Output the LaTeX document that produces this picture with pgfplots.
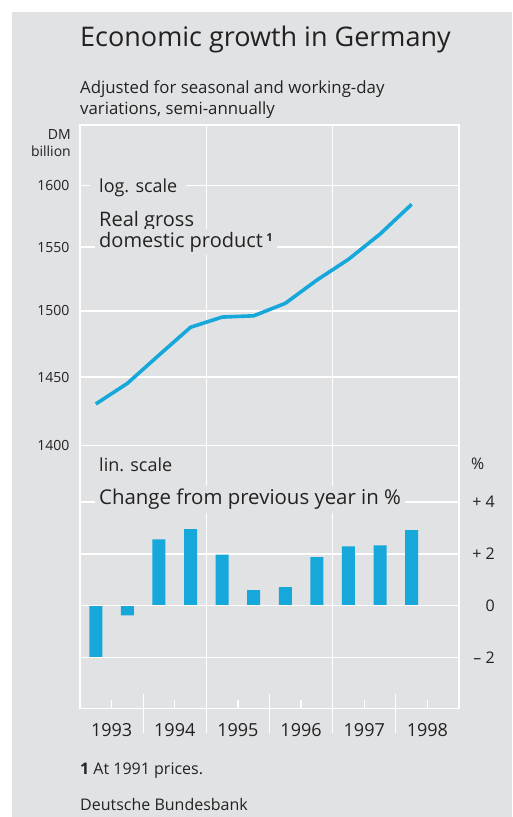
\documentclass[border=0pt]{standalone}
\usepackage{fontspec}
\setmainfont{Open Sans}
\usepackage{pgfplots}
\pgfplotsset{compat=1.18}
\definecolor{bg}{HTML}{E1E2E4}
\definecolor{bl}{HTML}{16A8DB}
\definecolor{txt}{HTML}{222222}
\newcommand{\fs}[1]{\fontsize{#1}{#1}\selectfont}
\begin{document}
\begin{tikzpicture}
\useasboundingbox (0pt,0pt) rectangle (512pt,817pt);
\fill[white] (0pt,0pt) rectangle (512pt,817pt);
\fill[bg] (12pt,0pt) rectangle (512pt,805pt);

% upper panel: real GDP, log scale (x = years after start of 1993)
\begin{axis}[
  at={(80pt,371.7pt)}, anchor=south west, scale only axis,
  width=379pt, height=320.3pt,
  xmin=0, xmax=6,
  y coord trafo/.code={\pgfmathparse{ln(#1/1400)*1000}},
  y coord inv trafo/.code={\pgfmathparse{1400*exp(#1/1000)}},
  ymin=1400, ymax=1650.3,
  xtick={2,4}, xticklabels={},
  ytick={1400,1450,1500,1550,1600},
  yticklabels={1400,1450,1500,1550,1600},
  grid=major, major grid style={white, line width=1.3pt},
  major tick length=0pt,
  axis line style={white, line width=1.3pt},
  yticklabel style={font=\fs{14}, text=txt, xshift=-7pt},
]
\addplot[bl, line width=3.6pt, line join=round] coordinates {
  (0.25,1430) (0.75,1445.3) (1.25,1466.4) (1.75,1487.5)
  (2.25,1495.3) (2.75,1496.3) (3.25,1505.9) (3.75,1524)
  (4.25,1540.3) (4.75,1560.4) (5.25,1584.4)
};
\end{axis}

% lower panel: change from previous year
\begin{axis}[
  at={(80pt,108.5pt)}, anchor=south west, scale only axis,
  width=379pt, height=263pt,
  xmin=0, xmax=6, ymin=-3.95, ymax=6.17,
  clip=false,
  xtick={0.5,1.5,2.5,3.5,4.5,5.5},
  xticklabels={1993,1994,1995,1996,1997,1998},
  extra x ticks={2,4}, extra x tick labels={},
  extra x tick style={xmajorgrids=true},
  xmajorgrids=false, ymajorgrids=true,
  ytick={-2,0,2,4}, yticklabels={– 2,0,+ 2,+ 4},
  yticklabel pos=right,
  major grid style={white, line width=1.3pt},
  axis line style={white, line width=1.3pt},
  tick align=inside, xtick pos=bottom,
  major tick length=8.5pt,
  xtick style={white, line width=1.3pt},
  ytick style={draw=none},
  xticklabel style={font=\fs{18}, text=txt, anchor=base, yshift=-28.2pt},
  yticklabel style={font=\fs{16}, text=txt, anchor=east, xshift=39.3pt},
]
\addplot[ybar, bar width=13pt, fill=bl, draw=none] coordinates {
  (0.25,-1.96) (0.75,-0.37) (1.25,2.56) (1.75,2.95)
  (2.25,1.97) (2.75,0.6) (3.25,0.72) (3.75,1.87)
  (4.25,2.29) (4.75,2.33) (5.25,2.91)
};
\draw[white, line width=1.3pt] (axis cs:0,0) -- (axis cs:6,0);
\draw[white, line width=1.3pt] (axis cs:1,-3.40) -- (axis cs:1,-4.90);
\draw[white, line width=1.3pt] (axis cs:3,-3.40) -- (axis cs:3,-4.90);
\draw[white, line width=1.3pt] (axis cs:5,-3.40) -- (axis cs:5,-4.90);
\draw[white, line width=1.3pt] (axis cs:2,-3.95) -- (axis cs:2,-4.90);
\draw[white, line width=1.3pt] (axis cs:4,-3.95) -- (axis cs:4,-4.90);
\end{axis}

% texts
\begin{scope}[every node/.style={text=txt, inner sep=0pt}]
\node[anchor=base west] at (80pt,770.3pt) {\fs{27}Economic growth in Germany};
\node[anchor=base west] at (80pt,723.7pt) {\fs{16.8}Adjusted for seasonal and working-day};
\node[anchor=base west] at (80pt,702pt) {\fs{16.8}variations, semi-annually};
\node[anchor=base east] at (71pt,677pt) {\fs{14}DM};
\node[anchor=base east] at (71pt,660.3pt) {\fs{14}billion};
\node[anchor=base west, fill=bg, inner xsep=9pt, inner ysep=2pt] at (90pt,624.3pt) {\fs{18}log. scale};
\node[anchor=base west, fill=bg, inner xsep=4pt, inner ysep=2pt] at (95pt,590.3pt) {\fs{20}Real gross};
\node[anchor=base west, fill=bg, inner xsep=4pt, inner ysep=3pt] at (95pt,569.7pt) {\fs{20}domestic product\,\raisebox{6pt}{\fs{11}\bfseries 1}};
\node[anchor=base west] at (99pt,345.3pt) {\fs{18}lin. scale};
\node[anchor=base west, fill=bg, inner xsep=4pt, inner ysep=3pt] at (95pt,312pt) {\fs{20.4}Change from previous year in \%};
\node[anchor=base west] at (471pt,347.7pt) {\fs{16}\%};
\node[anchor=base west] at (80pt,42pt) {\fs{16}\textbf{1} At 1991 prices.};
\node[anchor=base west] at (80pt,6.3pt) {\fs{16}Deutsche Bundesbank};
\end{scope}
\end{tikzpicture}
\end{document}
